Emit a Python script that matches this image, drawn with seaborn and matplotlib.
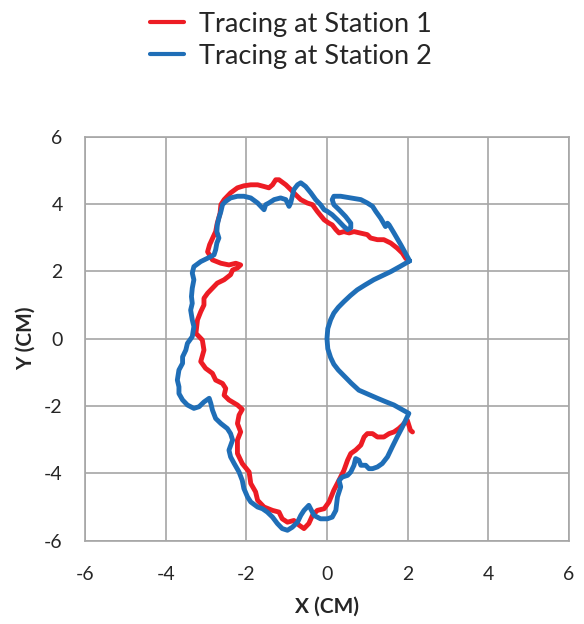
import matplotlib
matplotlib.use("Agg")
import matplotlib.pyplot as plt
import seaborn as sns
import pandas as pd

# Traced outline at Station 1 (cm)
station1_x = [2.02, 1.95, 1.87, 1.74, 1.58, 1.41, 1.25, 1.08, 1.00, 0.67, 0.55, 0.42,
              0.30, 0.22, 0.13, 0.05, -0.07, -0.24, -0.36, -0.49, -0.65, -0.78, -0.90,
              -1.02, -1.19, -1.27, -1.35, -1.44, -1.56, -1.72, -1.89, -2.06, -2.22, -2.39,
              -2.55, -2.63, -2.65, -2.72, -2.76, -2.83, -2.91, -2.96, -2.84, -2.63, -2.43,
              -2.26, -2.14, -2.22, -2.34, -2.39, -2.55, -2.72, -2.84, -2.96, -3.05, -3.05,
              -3.13, -3.21, -3.25, -3.09, -3.05, -3.13, -3.01, -2.84, -2.76, -2.59, -2.51,
              -2.55, -2.43, -2.22, -2.10, -2.18, -2.22, -2.14, -2.22, -2.22, -2.10, -1.93,
              -1.89, -1.77, -1.72, -1.56, -1.35, -1.19, -1.11, -0.98, -0.82, -0.69, -0.57,
              -0.45, -0.36, -0.24, -0.07, 0.05, 0.17, 0.30, 0.42, 0.51, 0.59, 0.71, 0.84,
              0.92, 1.00, 1.13, 1.25, 1.41, 1.54, 1.66, 1.78, 1.87, 1.99, 2.07, 2.12]
station1_y = [2.31, 2.39, 2.54, 2.69, 2.84, 2.94, 2.94, 2.99, 3.09, 3.18, 3.14, 3.18,
              3.14, 3.24, 3.38, 3.43, 3.53, 3.78, 3.98, 4.03, 4.13, 4.28, 4.43,
              4.57, 4.72, 4.72, 4.57, 4.48, 4.52, 4.57, 4.57, 4.54, 4.48, 4.33,
              4.13, 3.98, 3.73, 3.43, 3.18, 3.00, 2.79, 2.58, 2.34, 2.24, 2.19,
              2.24, 2.19, 2.10, 2.04, 1.90, 1.75, 1.65, 1.50, 1.35, 1.20, 1.00,
              0.80, 0.56, 0.16, -0.04, -0.34, -0.68, -0.88, -1.03, -1.23, -1.33, -1.48,
              -1.68, -1.82, -1.97, -2.10, -2.27, -2.52, -2.77, -3.01, -3.41, -3.71, -3.96,
              -4.30, -4.55, -4.80, -5.00, -5.10, -5.15, -5.35, -5.45, -5.40, -5.54, -5.64,
              -5.49, -5.25, -5.10, -5.05, -4.85, -4.50, -4.20, -3.91, -3.61, -3.41, -3.31, -3.16,
              -2.92, -2.82, -2.82, -2.92, -2.92, -2.82, -2.77, -2.67, -2.57, -2.42, -2.72, -2.77]

# Traced outline at Station 2 (cm), closing back along the inner arc
station2_x = [2.05, 1.83, 1.66, 1.54, 1.50, 1.45, 1.33, 1.21, 1.13, 1.00, 0.84, 0.59,
              0.34, 0.17, 0.13, 0.17, 0.30, 0.46, 0.59, 0.59, 0.51, 0.42, 0.26, 0.13,
              0.01, -0.07, -0.16, -0.28, -0.40, -0.53, -0.65, -0.73, -0.82, -0.86, -0.90,
              -0.94, -1.02, -1.15, -1.31, -1.44, -1.52, -1.56, -1.64, -1.72, -1.89, -2.06,
              -2.22, -2.39, -2.51, -2.59, -2.63, -2.68, -2.72, -2.73, -2.68, -2.73, -2.76,
              -2.80, -2.96, -3.13, -3.30, -3.34, -3.30, -3.34, -3.36, -3.34, -3.38, -3.34,
              -3.30, -3.34, -3.46, -3.50, -3.58, -3.58, -3.67, -3.71, -3.67, -3.67, -3.58,
              -3.46, -3.30, -3.17, -3.05, -2.92, -2.88, -2.84, -2.76, -2.63, -2.47, -2.39,
              -2.34, -2.43, -2.39, -2.30, -2.18, -2.10, -2.06, -1.97, -1.89, -1.72, -1.60,
              -1.48, -1.35, -1.23, -1.11, -0.98, -0.86, -0.73, -0.65, -0.57, -0.45, -0.32,
              -0.16, 0.01, 0.13, 0.22, 0.26, 0.34, 0.30, 0.38, 0.51, 0.59, 0.67, 0.71,
              0.79, 0.84, 0.96, 1.04, 1.13, 1.25, 1.37, 1.50, 1.62, 1.74, 1.87, 1.95, 2.03,
              1.85, 1.66, 1.45, 1.25, 1.02, 0.79, 0.60, 0.42, 0.28, 0.17, 0.09, 0.02, 0.00,
              0.02, 0.09, 0.17, 0.28, 0.42, 0.58, 0.75, 0.95, 1.16, 1.37, 1.58, 1.82, 2.05]
station2_y = [2.31, 2.79, 3.14, 3.38, 3.43, 3.33, 3.58, 3.78, 3.93, 4.03, 4.13, 4.18,
              4.23, 4.23, 4.13, 3.98, 3.83, 3.63, 3.43, 3.29, 3.24, 3.33, 3.53, 3.68,
              3.78, 3.83, 3.98, 4.13, 4.33, 4.52, 4.63, 4.57, 4.43, 4.23, 4.03,
              3.93, 4.13, 4.18, 4.13, 4.03, 3.98, 3.83, 3.93, 4.03, 4.18, 4.23,
              4.23, 4.18, 4.08, 3.98, 3.78, 3.58, 3.38, 3.18, 2.99, 2.84, 2.64,
              2.49, 2.39, 2.29, 2.14, 1.95, 1.75, 1.50, 1.25, 1.05, 0.85, 0.56,
              0.36, 0.06, -0.14, -0.34, -0.54, -0.73, -0.93, -1.23, -1.43, -1.63, -1.82,
              -1.97, -2.07, -2.02, -1.88, -1.77, -1.92, -2.12, -2.37, -2.52, -2.67, -2.82,
              -3.01, -3.31, -3.51, -3.71, -3.96, -4.21, -4.45, -4.70, -4.85, -5.00, -5.05,
              -5.15, -5.30, -5.49, -5.64, -5.69, -5.60, -5.45, -5.25, -5.10, -4.95, -5.25,
              -5.35, -5.35, -5.30, -5.10, -4.70, -4.40, -4.21, -4.11, -4.06, -3.96, -3.76, -3.56,
              -3.61, -3.76, -3.76, -3.86, -3.86, -3.81, -3.71, -3.51, -3.21, -2.92, -2.62, -2.42, -2.22,
              -2.10, -1.97, -1.87, -1.77, -1.65, -1.53, -1.32, -1.10, -0.93, -0.76, -0.56, -0.30, 0.00,
              0.30, 0.56, 0.76, 0.93, 1.10, 1.28, 1.45, 1.60, 1.75, 1.87, 1.99, 2.15, 2.31]

series_labels = ["Tracing at Station 1", "Tracing at Station 2"]
series_colors = ["#ED1C24", "#1F6EB7"]
axis_ticks = [-6, -4, -2, 0, 2, 4, 6]

df = pd.concat([
    pd.DataFrame({"x": station1_x, "y": station1_y, "series": series_labels[0]}),
    pd.DataFrame({"x": station2_x, "y": station2_y, "series": series_labels[1]}),
], ignore_index=True)

sns.set_style("white")
plt.rcParams["font.family"] = ["Lato", "DejaVu Sans"]

fig = plt.figure(figsize=(5.84, 6.24), dpi=100)
ax = fig.add_axes([0.1455, 0.1335, 0.8288, 0.6475])

sns.lineplot(data=df, x="x", y="y", hue="series", sort=False, estimator=None,
             palette=dict(zip(series_labels, series_colors)),
             linewidth=3.5, ax=ax, legend=False)
for line in ax.get_lines():
    line.set_solid_capstyle("round")
    line.set_solid_joinstyle("round")

ax.set_xlim(-6, 6)
ax.set_ylim(-6, 6)
ax.set_xticks(axis_ticks)
ax.set_yticks(axis_ticks)
ax.set_xticklabels([str(t) for t in axis_ticks])
ax.set_yticklabels([str(t) for t in axis_ticks])
ax.grid(True, color="#A6A6A6", linewidth=1.2)
ax.set_axisbelow(True)
for s in ax.spines.values():
    s.set_color("#A6A6A6")
    s.set_linewidth(1.2)
ax.tick_params(axis="x", length=0, labelsize=14, colors="#262626", pad=18)
ax.tick_params(axis="y", length=0, labelsize=14, colors="#262626", pad=16)
ax.set_xlabel("X (CM)", fontsize=15, fontweight="bold", color="#262626", labelpad=10)
ax.set_ylabel("Y (CM)", fontsize=15, fontweight="bold", color="#262626", labelpad=6)

handles = [plt.Line2D([], [], color=c, linewidth=3.0) for c in series_colors]
fig.legend(handles, series_labels, loc="upper left", bbox_to_anchor=(0.215, 1.02),
           frameon=False, fontsize=19.5, handlelength=1.25, handletextpad=0.55,
           labelspacing=0.25, labelcolor="#262626")

fig.savefig("out.png", dpi=100)
